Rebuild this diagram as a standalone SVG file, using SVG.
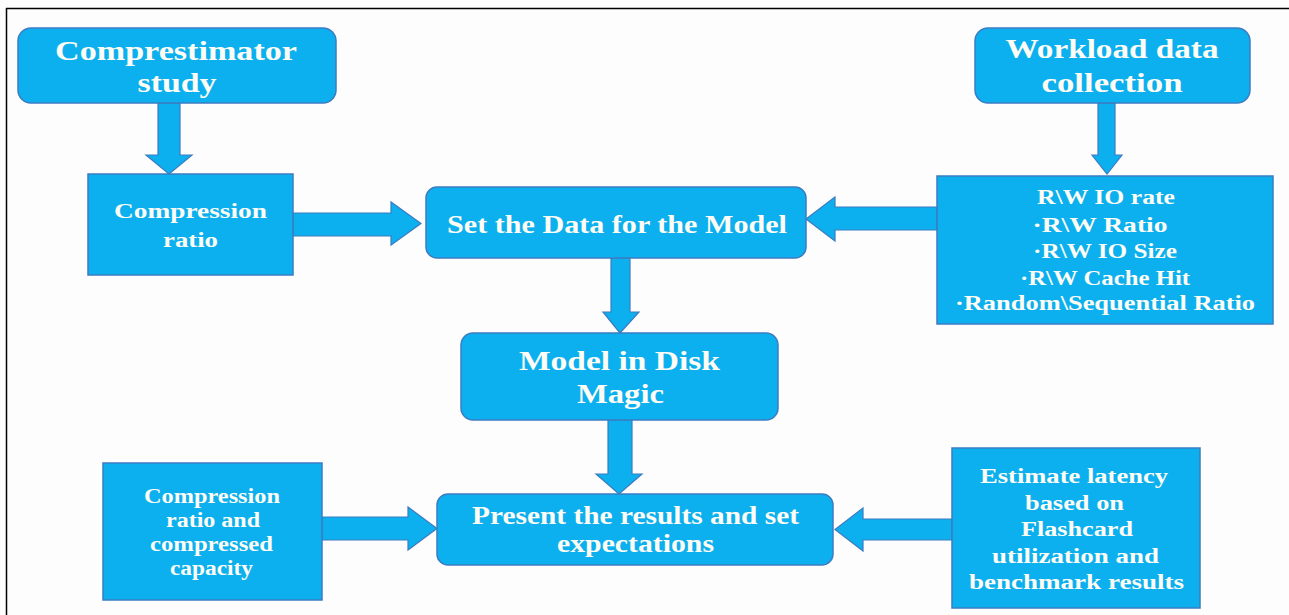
<svg xmlns="http://www.w3.org/2000/svg" width="1289" height="615" viewBox="0 0 1289 615">
<style>
.box{fill:#0cb0ef;stroke:#3b7cc2;stroke-width:1.5}
.arr{fill:#0cb0ef;stroke:#3b7cc2;stroke-width:1.2;stroke-linejoin:miter}
text{font-family:"Liberation Serif","Times New Roman",serif;font-weight:bold;fill:#fdfcf5;text-anchor:middle}
.big{font-size:28px}
.mid{font-size:25px}
.sm{font-size:20px}
</style>
<rect x="0" y="0" width="1289" height="615" fill="#fdfdfd"/>
<path d="M6 8.5H1289M6.5 8V615" stroke="#000" stroke-width="1.5" fill="none"/>
<g id="connectors">
<polygon class="arr" points="158,103 180,103 180,155 192,155 169,174 146,155 158,155"/>
<polygon class="arr" points="293,213 391,213 391,202 421,223.5 391,245 391,236 293,236"/>
<polygon class="arr" points="1098,103 1115,103 1115,155 1122,155 1107,174 1092,155 1098,155"/>
<polygon class="arr" points="937,207 835,207 835,197 806,219 835,241 835,230 937,230"/>
<polygon class="arr" points="611,258 630,258 630,312 639,312 620,333 603,312 611,312"/>
<polygon class="arr" points="608,420 632,420 632,474 642,474 619,494 596,474 608,474"/>
<polygon class="arr" points="322,517 408,517 408,507 437,528.5 408,550 408,540 322,540"/>
<polygon class="arr" points="952,519 863,519 863,508 835,529.5 863,551 863,540 952,540"/>
</g>
<g id="compressimator">
<rect class="box" x="18" y="28" width="318" height="75" rx="13"/>
<text class="big" x="176" y="60" textLength="242" lengthAdjust="spacingAndGlyphs">Comprestimator</text>
<text class="big" x="177" y="92" textLength="79" lengthAdjust="spacingAndGlyphs">study</text>
</g>
<g id="compression-ratio">
<rect class="box" x="88" y="174" width="205" height="101"/>
<text class="sm" x="190.5" y="218" textLength="153" lengthAdjust="spacingAndGlyphs">Compression</text>
<text class="sm" x="190.5" y="247" textLength="55" lengthAdjust="spacingAndGlyphs">ratio</text>
</g>
<g id="workload">
<rect class="box" x="975" y="28" width="275" height="75" rx="13"/>
<text class="big" x="1112" y="58" textLength="213" lengthAdjust="spacingAndGlyphs">Workload data</text>
<text class="big" x="1112" y="92" textLength="141" lengthAdjust="spacingAndGlyphs">collection</text>
</g>
<g id="rw-metrics">
<rect class="box" x="937" y="176" width="336" height="148"/>
<text class="sm" x="1106" y="204" textLength="138" lengthAdjust="spacingAndGlyphs">R\W IO rate</text>
<text class="sm" x="1100" y="232" textLength="135" lengthAdjust="spacingAndGlyphs">·R\W Ratio</text>
<text class="sm" x="1105" y="258" textLength="144" lengthAdjust="spacingAndGlyphs">·R\W IO Size</text>
<text class="sm" x="1105" y="285" textLength="170" lengthAdjust="spacingAndGlyphs">·R\W Cache Hit</text>
<text class="sm" x="1105" y="310" textLength="300" lengthAdjust="spacingAndGlyphs">·Random\Sequential Ratio</text>
</g>
<g id="set-data">
<rect class="box" x="426" y="187" width="380" height="71" rx="11"/>
<text class="mid" x="617" y="233" textLength="340" lengthAdjust="spacingAndGlyphs">Set the Data for the Model</text>
</g>
<g id="disk-magic">
<rect class="box" x="461" y="333" width="317" height="87" rx="12"/>
<text class="big" x="619.5" y="370" textLength="201" lengthAdjust="spacingAndGlyphs">Model in Disk</text>
<text class="big" x="620.5" y="403" textLength="87" lengthAdjust="spacingAndGlyphs">Magic</text>
</g>
<g id="present">
<rect class="box" x="437" y="494" width="396" height="71" rx="11"/>
<text class="mid" x="635.5" y="524" textLength="327" lengthAdjust="spacingAndGlyphs">Present the results and set</text>
<text class="mid" x="635.5" y="552" textLength="157" lengthAdjust="spacingAndGlyphs">expectations</text>
</g>
<g id="compressed-capacity">
<rect class="box" x="103" y="463" width="219" height="137"/>
<text class="sm" x="212" y="503" textLength="136" lengthAdjust="spacingAndGlyphs">Compression</text>
<text class="sm" x="213" y="527" textLength="94" lengthAdjust="spacingAndGlyphs">ratio and</text>
<text class="sm" x="211.5" y="551" textLength="123" lengthAdjust="spacingAndGlyphs">compressed</text>
<text class="sm" x="211.5" y="575" textLength="83" lengthAdjust="spacingAndGlyphs">capacity</text>
</g>
<g id="estimate">
<rect class="box" x="952" y="448" width="248" height="160"/>
<text class="sm" x="1074" y="483" textLength="188" lengthAdjust="spacingAndGlyphs">Estimate latency</text>
<text class="sm" x="1074.5" y="510" textLength="99" lengthAdjust="spacingAndGlyphs">based on</text>
<text class="sm" x="1077" y="536" textLength="112" lengthAdjust="spacingAndGlyphs">Flashcard</text>
<text class="sm" x="1075.5" y="563" textLength="167" lengthAdjust="spacingAndGlyphs">utilization and</text>
<text class="sm" x="1076.5" y="589" textLength="215" lengthAdjust="spacingAndGlyphs">benchmark results</text>
</g>
</svg>
